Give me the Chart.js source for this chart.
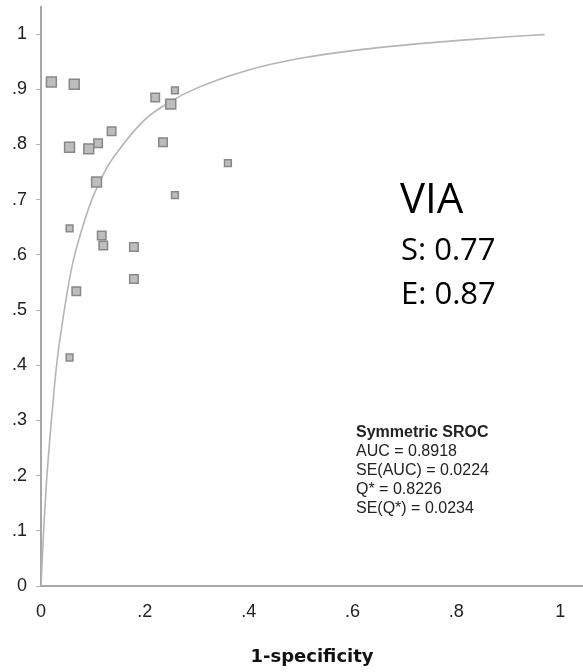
<!DOCTYPE html>
<html>
<head>
<meta charset="utf-8">
<script src="https://cdn.jsdelivr.net/npm/chart.js@4.4.0/dist/chart.umd.min.js"></script>
<style>
  html, body { margin: 0; padding: 0; background: #fff; }
  #wrap { width: 583px; height: 672px; position: relative; }
</style>
</head>
<body>
<div id="wrap"><canvas id="c"></canvas></div>
<script>
// ---- Data ----
// Studies: 1-specificity (x) and sensitivity (y), grouped by marker size (study weight)
const largeFpr  = [0.020, 0.064, 0.055, 0.092, 0.107, 0.250];
const largeSens = [0.913, 0.909, 0.795, 0.792, 0.732, 0.873];

const mediumFpr  = [0.110, 0.136, 0.117, 0.120, 0.179, 0.179, 0.068, 0.220, 0.235];
const mediumSens = [0.802, 0.824, 0.635, 0.617, 0.614, 0.556, 0.534, 0.885, 0.804];

const smallFpr  = [0.055, 0.258, 0.258, 0.360, 0.055];
const smallSens = [0.648, 0.898, 0.708, 0.766, 0.414];

// Symmetric SROC curve
const curveFpr  = [0, 0.005, 0.01, 0.02, 0.03, 0.04, 0.06, 0.08, 0.10, 0.125, 0.15, 0.20, 0.25, 0.30, 0.40, 0.50, 0.60, 0.70, 0.80, 0.90, 0.97];
const curveSens = [0, 0.10, 0.18, 0.30, 0.40, 0.47, 0.58, 0.65, 0.705, 0.755, 0.79, 0.845, 0.878, 0.902, 0.935, 0.956, 0.970, 0.980, 0.988, 0.995, 0.999];

// Axis ticks
const xTickValues = [0, 0.2, 0.4, 0.6, 0.8, 1];
const xTickLabels = ['0', '.2', '.4', '.6', '.8', '1'];
const yTickValues = [0, 0.1, 0.2, 0.3, 0.4, 0.5, 0.6, 0.7, 0.8, 0.9, 1];
const yTickLabels = ['0', '.1', '.2', '.3', '.4', '.5', '.6', '.7', '.8', '.9', '1'];

const xTitle = '1-specificity';
const srocLines = ['Symmetric SROC', 'AUC = 0.8918', 'SE(AUC) = 0.0224', 'Q* = 0.8226', 'SE(Q*) = 0.0234'];
const viaLines = ['VIA', 'S: 0.77', 'E: 0.87'];

// ---- Build datasets ----
const pts = (xs, ys) => xs.map((x, i) => ({ x: x, y: ys[i] }));

const markerFill = '#bdbdbd';
const markerBorder = '#888888';

const textPlugin = {
  id: 'annotText',
  afterDraw(chart) {
    const ctx = chart.ctx;
    ctx.save();
    // VIA block
    ctx.fillStyle = '#000';
    ctx.textBaseline = 'alphabetic';
    ctx.textAlign = 'left';
    ctx.font = '42px "Open Sans"';
    ctx.fillText(viaLines[0], 400, 213);
    ctx.font = '31px "Open Sans"';
    ctx.fillText(viaLines[1], 401, 260);
    ctx.fillText(viaLines[2], 401, 304);
    // SROC block
    ctx.fillStyle = '#222';
    const base = [437, 456, 475, 494, 513];
    srocLines.forEach((t, i) => {
      ctx.font = (i === 0 ? 'bold ' : '') + '16px "Liberation Sans", Arial';
      ctx.fillText(t, 356, base[i]);
    });
    ctx.restore();
  }
};

new Chart(document.getElementById('c'), {
  data: {
    datasets: [
      {
        type: 'line',
        label: 'SROC',
        data: pts(curveFpr, curveSens),
        borderColor: '#b5b5b5',
        borderWidth: 1.6,
        pointRadius: 0,
        fill: false,
        cubicInterpolationMode: 'monotone',
        order: 2
      },
      {
        type: 'scatter',
        label: 'large',
        data: pts(largeFpr, largeSens),
        pointStyle: 'rect',
        pointRadius: 7,
        backgroundColor: markerFill,
        borderColor: markerBorder,
        borderWidth: 1.5,
        order: 1
      },
      {
        type: 'scatter',
        label: 'medium',
        data: pts(mediumFpr, mediumSens),
        pointStyle: 'rect',
        pointRadius: 6,
        backgroundColor: markerFill,
        borderColor: markerBorder,
        borderWidth: 1.5,
        order: 1
      },
      {
        type: 'scatter',
        label: 'small',
        data: pts(smallFpr, smallSens),
        pointStyle: 'rect',
        pointRadius: 4.8,
        backgroundColor: markerFill,
        borderColor: markerBorder,
        borderWidth: 1.5,
        order: 1
      }
    ]
  },
  options: {
    responsive: true,
    maintainAspectRatio: false,
    animation: false,
    layout: { autoPadding: false, padding: { top: 7, right: 0, left: 0, bottom: 0 } },
    plugins: { legend: { display: false }, tooltip: { enabled: false } },
    scales: {
      x: {
        type: 'linear',
        min: 0,
        max: 1.044,
        afterBuildTicks: s => { s.ticks = xTickValues.map(v => ({ value: v })); },
        afterFit: s => { s.height = 86; s.paddingLeft = 0; s.paddingRight = 0; },
        ticks: {
          callback: (v, i) => xTickLabels[i],
          font: { family: '"Liberation Sans", Arial', size: 18 },
          color: '#222',
          padding: 15,
          maxRotation: 0,
          autoSkip: false
        },
        grid: { display: true, drawOnChartArea: false, drawTicks: false, color: '#aaa' },
        border: { display: true, color: '#a8a8a8', width: 2 },
        title: {
          display: true,
          text: xTitle,
          font: { family: '"DejaVu Sans"', size: 18, weight: 'bold' },
          color: '#111',
          padding: { top: 0, bottom: 4 }
        }
      },
      y: {
        type: 'linear',
        min: 0,
        max: 1.049,
        afterBuildTicks: s => { s.ticks = yTickValues.map(v => ({ value: v })); },
        afterFit: s => { s.width = 41; s.paddingTop = 0; s.paddingBottom = 0; },
        ticks: {
          callback: (v, i) => yTickLabels[i],
          font: { family: '"Liberation Sans", Arial', size: 18 },
          color: '#222',
          padding: 9,
          autoSkip: false
        },
        grid: { display: true, drawOnChartArea: false, drawTicks: true, tickLength: 5, color: '#b5b5b5', lineWidth: 1 },
        border: { display: true, color: '#a8a8a8', width: 2 }
      }
    }
  },
  plugins: [textPlugin]
});
</script>
</body>
</html>
